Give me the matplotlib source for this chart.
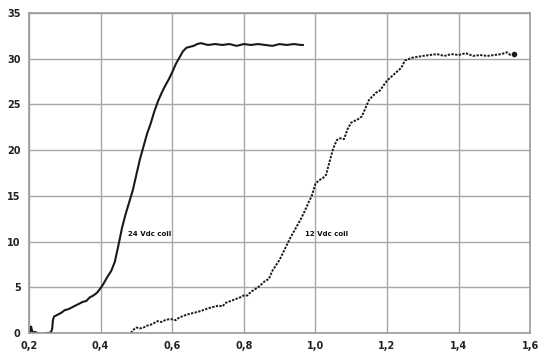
import numpy as np
import matplotlib
matplotlib.use("Agg")
import matplotlib.pyplot as plt
from matplotlib.ticker import FuncFormatter

# 24 Vdc coil (solid)
x24 = [0.203, 0.206, 0.209, 0.212, 0.218, 0.224, np.nan,
       0.247, 0.255, 0.262, 0.265, 0.267, 0.270, 0.275, 0.28, 0.29, 0.30, 0.31, 0.32, 0.33,
       0.34, 0.35, 0.36, 0.37, 0.38, 0.39, 0.40, 0.41, 0.42, 0.43, 0.44, 0.45,
       0.46, 0.47, 0.48, 0.49, 0.50, 0.51, 0.52, 0.53, 0.54, 0.55, 0.56, 0.57,
       0.58, 0.59, 0.60, 0.61, 0.62, 0.63, 0.64, 0.65, 0.66, 0.67, 0.68, 0.69,
       0.70, 0.72, 0.74, 0.76, 0.78, 0.80, 0.82, 0.84, 0.86, 0.88, 0.90, 0.92,
       0.94, 0.96, 0.965]
y24 = [0.1, 0.7, 0.2, 0.1, 0.1, 0.0, np.nan,
       0.0, 0.0, 0.1, 0.5, 1.4, 1.8, 1.9, 2.0, 2.2, 2.5, 2.6, 2.8, 3.0,
       3.2, 3.4, 3.5, 3.9, 4.1, 4.4, 4.9, 5.5, 6.2, 6.8, 7.8, 9.6,
       11.5, 13.0, 14.3, 15.6, 17.3, 19.0, 20.4, 21.8, 22.9, 24.2, 25.3, 26.2,
       27.0, 27.7, 28.5, 29.4, 30.1, 30.8, 31.2, 31.3, 31.4, 31.6, 31.7, 31.6,
       31.5, 31.6, 31.5, 31.6, 31.4, 31.6, 31.5, 31.6, 31.5, 31.4, 31.6, 31.5,
       31.6, 31.5, 31.5]

# 12 Vdc coil (dotted)
x12 = [0.485, 0.49, 0.50, 0.51, 0.52, 0.53, 0.54, 0.55, 0.56, 0.57, 0.58, 0.59,
       0.60, 0.61, 0.62, 0.64, 0.66, 0.68, 0.70, 0.72, 0.73, 0.74, 0.75, 0.77,
       0.79, 0.80, 0.81, 0.82, 0.84, 0.86, 0.87, 0.88, 0.90, 0.92, 0.93, 0.95,
       0.96, 0.97, 0.98, 0.99, 1.00, 1.01, 1.02, 1.03, 1.04, 1.05, 1.06, 1.07,
       1.08, 1.09, 1.10, 1.12, 1.13, 1.14, 1.15, 1.17, 1.18, 1.20, 1.22, 1.24,
       1.25, 1.27, 1.30, 1.32, 1.34, 1.36, 1.38, 1.40, 1.42, 1.44, 1.46, 1.48,
       1.50, 1.52, 1.535, 1.545, 1.555]
y12 = [0.0, 0.3, 0.6, 0.5, 0.6, 0.8, 0.9, 1.1, 1.3, 1.2, 1.4, 1.5,
       1.5, 1.4, 1.7, 2.0, 2.2, 2.4, 2.7, 2.9, 3.0, 2.9, 3.3, 3.6,
       3.9, 4.1, 4.1, 4.5, 5.0, 5.7, 5.9, 6.8, 8.0, 9.6, 10.4, 11.8,
       12.5, 13.3, 14.2, 15.0, 16.3, 16.7, 16.9, 17.3, 18.8, 20.2, 21.1, 21.3,
       21.2, 22.3, 23.0, 23.4, 23.7, 24.6, 25.5, 26.3, 26.5, 27.6, 28.3, 29.0,
       29.8, 30.1, 30.3, 30.4, 30.5, 30.3, 30.5, 30.4, 30.6, 30.3, 30.4, 30.3,
       30.4, 30.5, 30.7, 30.4, 30.5]

XTICKS = [0.2, 0.4, 0.6, 0.8, 1.0, 1.2, 1.4, 1.6]
YTICKS = [0, 5, 10, 15, 20, 25, 30, 35]

fig = plt.figure(figsize=(5.46, 3.6), dpi=100)
ax = fig.add_axes([0.053, 0.075, 0.918, 0.889])

ax.plot(x24, y24, color="#1a1a1a", lw=1.5)
ax.plot(x12, y12, color="#1a1a1a", lw=1.4, ls=(0, (1.2, 0.7)))
ax.plot([x12[-1]], [y12[-1]], "o", color="#1a1a1a", ms=3)

ax.text(0.476, 10.8, "24 Vdc coil", fontsize=5, fontweight="bold", color="#111", va="center")
ax.text(0.972, 10.8, "12 Vdc coil", fontsize=5, fontweight="bold", color="#111", va="center")

ax.set_xlim(0.2, 1.6)
ax.set_ylim(0, 35)
ax.set_xticks(XTICKS)
ax.set_yticks(YTICKS)
ax.xaxis.set_major_formatter(FuncFormatter(lambda v, p: f"{v:.1f}".replace(".", ",")))
ax.grid(True, color="#a8a8a8", lw=1.0)
ax.set_axisbelow(True)
for s in ax.spines.values():
    s.set_color("#9a9a9a")
    s.set_linewidth(1.2)
ax.tick_params(length=0, labelsize=7, colors="#222", pad=6)
for lab in ax.get_xticklabels() + ax.get_yticklabels():
    lab.set_fontweight("bold")

fig.savefig("out.png", dpi=100)
